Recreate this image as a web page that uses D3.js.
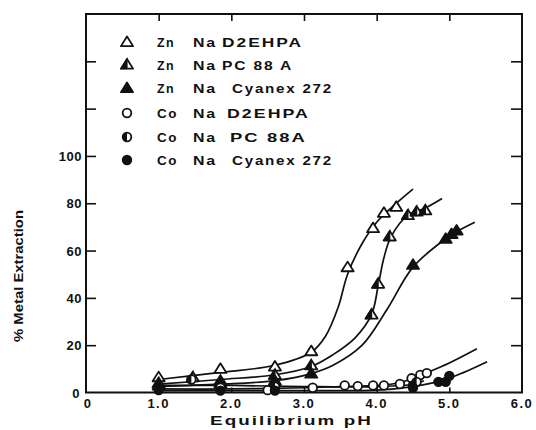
<!DOCTYPE html>
<html>
<head>
<meta charset="utf-8">
<script src="https://cdn.jsdelivr.net/npm/d3@7/dist/d3.min.js"></script>
<style>
  html, body { margin: 0; padding: 0; background: #fff; }
  svg { display: block; }
  text { font-family: "Liberation Sans", Arial, sans-serif; font-weight: bold; fill: #111; }
</style>
</head>
<body>
<svg id="chart" width="536" height="430"></svg>
<script>
// Axis ticks
const xTicks = [0, 1, 2, 3, 4, 5, 6];
const xTickLabels = ["0", "1.0", "2.0", "3.0", "4.0", "5.0", "6.0"];
const yTicks = [0, 20, 40, 60, 80, 100, 120, 140, 160];
const yTickLabels = ["0", "20", "40", "60", "80", "100", "", "", ""];

// Legend entries (metal, diluent salt, extractant)
const seriesNames = [
  ["Zn", "Na", "D2EHPA"],
  ["Zn", "Na", "PC 88 A"],
  ["Zn", "Na", "Cyanex 272"],
  ["Co", "Na", "D2EHPA"],
  ["Co", "Na", "PC 88A"],
  ["Co", "Na", "Cyanex 272"]
];

// Measured points [pH, % extraction]
const znD2ehpa = [[1.0,6.5],[1.85,10],[2.6,11],[3.1,17.5],[3.6,53],[3.95,69.5],[4.1,76],[4.27,78.5]];
const znPc88a  = [[1.0,4],[1.47,6.5],[1.85,5],[2.6,7.5],[3.1,11.5],[3.93,33],[4.02,46],[4.18,66],[4.43,75],[4.55,76.5],[4.67,77]];
const znCyanex = [[1.0,3],[1.85,4],[2.6,5],[3.1,8],[4.5,54],[4.95,65],[5.03,67],[5.1,68.5]];
const coD2ehpa = [[1.85,2],[2.5,1],[3.12,2],[3.56,3],[3.74,2.7],[3.95,3],[4.1,3],[4.32,3.6],[4.48,6],[4.6,7.4],[4.69,8.2]];
const coPc88a  = [[1.45,5.5],[2.6,2.5],[4.5,3],[4.55,4.5]];
const coCyanex = [[1.0,1],[1.85,0.8],[2.6,0.8],[4.5,2],[4.85,4.5],[4.95,4.5],[5.0,7]];

// Hand-fitted extraction curves [pH, % extraction]
const znD2ehpaFit = [[1.0,5.5],[1.85,8.5],[2.6,11.5],[3.1,17],[3.3,24],[3.47,36],[3.6,50],[3.8,63],[4.0,72],[4.27,80],[4.5,86]];
const znPc88aFit  = [[1.0,3.5],[1.85,5.5],[2.6,7.5],[3.1,11],[3.4,16],[3.7,23],[3.93,33],[4.02,45],[4.1,57],[4.2,66],[4.43,75],[4.67,78],[4.9,82]];
const znCyanexFit = [[1.0,2.5],[1.85,3.5],[2.6,5],[3.1,8],[3.4,11.5],[3.8,20],[4.14,35],[4.5,53],[4.95,65],[5.1,68],[5.35,72]];
const coD2ehpaFit = [[1.0,1.5],[2.0,1.5],[3.0,2],[3.5,2.5],[4.0,3],[4.3,4],[4.5,6],[4.7,8.5],[5.0,12.5],[5.38,18.5]];
const coPc88aFit  = [[1.0,3],[2.0,3],[3.0,2.5],[4.0,2.5],[4.5,3.5],[4.65,5]];
const coCyanexFit = [[1.0,0.8],[3.0,0.8],[4.0,1],[4.5,2.5],[4.9,5],[5.2,8.5],[5.52,13]];

const svg = d3.select("#chart");
const x = d3.scaleLinear().domain([0, 6]).range([86, 522]);
const y = d3.scaleLinear().domain([0, 160]).range([392.5, 14]);

// Plot frame
svg.append("rect")
  .attr("x", x(0)).attr("y", y(160))
  .attr("width", x(6) - x(0)).attr("height", y(0) - y(160))
  .attr("fill", "none").attr("stroke", "#111").attr("stroke-width", 2);

// Inward ticks on all four sides
const tickStyle = g => {
  g.select(".domain").remove();
  g.selectAll(".tick line").attr("stroke", "#111").attr("stroke-width", 1.6);
};
svg.append("g").attr("transform", `translate(${x(0)},0)`)
  .call(d3.axisRight(y).tickValues(yTicks.slice(1, -1)).tickSize(10).tickFormat(""))
  .call(tickStyle);
svg.append("g").attr("transform", `translate(${x(6)},0)`)
  .call(d3.axisLeft(y).tickValues(yTicks.slice(1, -1)).tickSize(11).tickFormat(""))
  .call(tickStyle);
svg.append("g").attr("transform", `translate(0,${y(160)})`)
  .call(d3.axisBottom(x).tickValues(xTicks.slice(1, -1)).tickSize(7).tickFormat(""))
  .call(tickStyle);
svg.append("g").attr("transform", `translate(0,${y(0)})`)
  .call(d3.axisTop(x).tickValues(xTicks.slice(1, -1)).tickSize(5).tickFormat(""))
  .call(tickStyle);

// Tick labels
svg.append("g").selectAll("text")
  .data(yTicks.map((v, i) => [v, yTickLabels[i]]).filter(d => d[1] !== ""))
  .join("text")
  .attr("x", d => d[0] === 0 ? 80 : 82)
  .attr("y", d => y(d[0]) + 5)
  .attr("text-anchor", "end")
  .attr("font-size", 13)
  .attr("letter-spacing", 0.5)
  .text(d => d[1]);

svg.append("g").selectAll("text")
  .data(xTicks.map((v, i) => [v, xTickLabels[i]]))
  .join("text")
  .attr("x", d => x(d[0]) + (d[0] === 0 ? 2 : 0))
  .attr("y", 408)
  .attr("text-anchor", "middle")
  .attr("font-size", 13)
  .attr("letter-spacing", 1.5)
  .text(d => d[1]);

// Axis titles
svg.append("text")
  .attr("x", 210).attr("y", 425)
  .attr("font-size", 13.5)
  .attr("letter-spacing", 1.5)
  .attr("textLength", 163).attr("lengthAdjust", "spacingAndGlyphs")
  .text("Equilibrium pH");

svg.append("text")
  .attr("transform", "translate(23,276) rotate(-90)")
  .attr("text-anchor", "middle")
  .attr("font-size", 12.5)
  .attr("textLength", 132).attr("lengthAdjust", "spacingAndGlyphs")
  .text("% Metal Extraction");

// Fitted curves
const line = d3.line()
  .x(d => x(d[0])).y(d => y(d[1]))
  .curve(d3.curveCatmullRom.alpha(0.5));
[znD2ehpaFit, znPc88aFit, znCyanexFit, coD2ehpaFit, coPc88aFit, coCyanexFit].forEach(fit => {
  svg.append("path").attr("d", line(fit))
    .attr("fill", "none").attr("stroke", "#111").attr("stroke-width", 1.7);
});

// Marker drawing
function triangle(g, cx, cy, kind) {
  const s = 5.5;
  const pts = [[cx, cy - s], [cx + s * 1.1, cy + s * 0.75], [cx - s * 1.1, cy + s * 0.75]];
  g.append("polygon").attr("points", pts.map(p => p.join(",")).join(" "))
    .attr("fill", kind === "filled" ? "#111" : "#fff")
    .attr("stroke", "#111").attr("stroke-width", 1.8).attr("stroke-linejoin", "round");
  if (kind === "half") {
    const half = [[cx, cy - s], [cx, cy + s * 0.75], [cx - s * 1.1, cy + s * 0.75]];
    g.append("polygon").attr("points", half.map(p => p.join(",")).join(" "))
      .attr("fill", "#111").attr("stroke", "#111").attr("stroke-width", 1.2);
  }
}
function circle(g, cx, cy, kind) {
  const r = 4.3;
  g.append("circle").attr("cx", cx).attr("cy", cy).attr("r", r)
    .attr("fill", kind === "filled" ? "#111" : "#fff")
    .attr("stroke", "#111").attr("stroke-width", 1.8);
  if (kind === "half") {
    g.append("path")
      .attr("d", `M${cx},${cy - r} A${r},${r} 0 0 0 ${cx},${cy + r} Z`)
      .attr("fill", "#111");
  }
}

const seriesMarks = [
  [znD2ehpa, triangle, "open"],
  [znPc88a, triangle, "half"],
  [znCyanex, triangle, "filled"],
  [coD2ehpa, circle, "open"],
  [coPc88a, circle, "half"],
  [coCyanex, circle, "filled"]
];
const marks = svg.append("g");
seriesMarks.forEach(([pts, shape, kind]) => {
  pts.forEach(p => shape(marks, x(p[0]), y(p[1]), kind));
});

// Legend
const legendRows = [42, 64.5, 88, 113, 137, 160];
const wordBoxes = [
  [[157, 18], [193, 24], [222, 81]],
  [[157, 18], [193, 24], [222, 71]],
  [[157, 18], [193, 24], [232, 101]],
  [[157, 21], [193, 24], [227, 83]],
  [[157, 21], [193, 24], [230, 77]],
  [[157, 21], [193, 24], [232, 101]]
];
const legend = svg.append("g");
seriesNames.forEach((words, i) => {
  const cy = legendRows[i];
  seriesMarks[i][1](legend, 127, cy, seriesMarks[i][2]);
  words.forEach((w, j) => {
    legend.append("text")
      .attr("x", wordBoxes[i][j][0]).attr("y", cy + 5)
      .attr("font-size", 13)
      .attr("letter-spacing", 1.5)
      .attr("textLength", wordBoxes[i][j][1]).attr("lengthAdjust", "spacingAndGlyphs")
      .text(w);
  });
});
</script>
</body>
</html>
